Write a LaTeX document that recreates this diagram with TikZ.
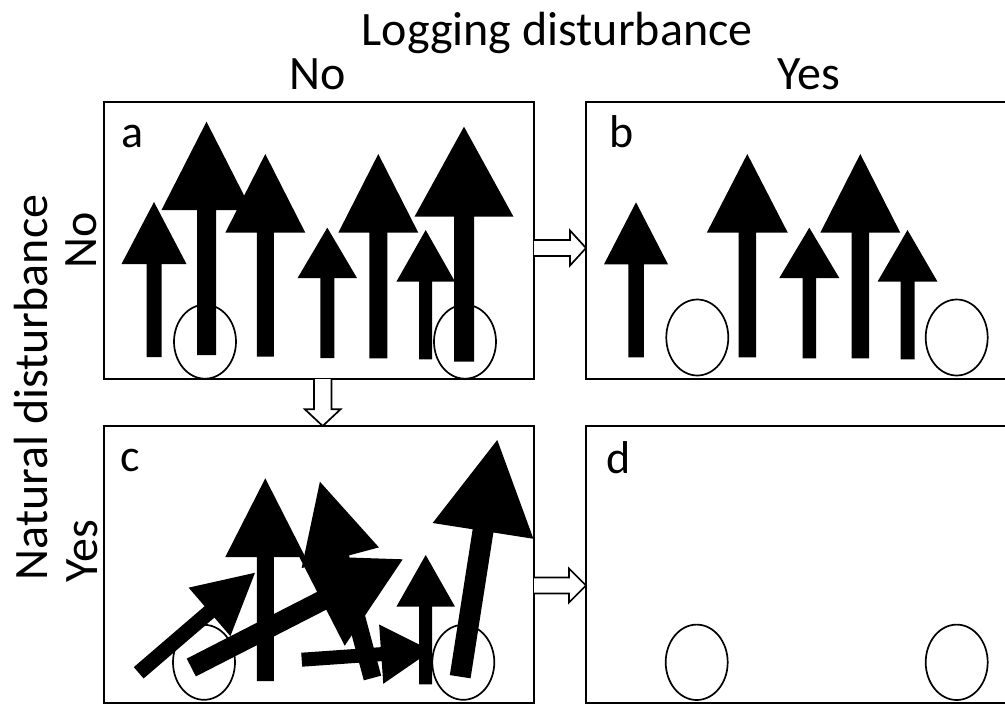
\documentclass[tikz,border=0pt]{standalone}
\usepackage{fontspec}
\setmainfont{Carlito}
\usetikzlibrary{calc}
% tree arrow: #1 base point, #2 canvas angle, #3 length, #4 shaft width, #5 head length, #6 head half-width
\newcommand\treearrow[6]{%
  \fill[tree,shift={(#1)},rotate=#2]
    (0,-#4/2) -- (#3-#5,-#4/2) -- (#3-#5,-#6) -- (#3,0) -- (#3-#5,#6) -- (#3-#5,#4/2) -- (0,#4/2) -- cycle;}
\begin{document}
\begin{tikzpicture}[x=1pt,y=-1pt,
  panel/.style={draw=black, line width=1.9pt, inner sep=0pt, outer sep=0pt},
  tree/.style={fill=black},
  ring/.style={draw=black, line width=1.7pt},
  hollow/.style={draw=black, line width=1.7pt, fill=white, line join=miter},
  lab/.style={font=\fontsize{48}{56}\selectfont, inner sep=0pt},
  plab/.style={font=\fontsize{46}{54}\selectfont, inner sep=0pt, anchor=base west}]
\clip (0,0) rectangle (1005,705);
\fill[white] (0,0) rectangle (1005,705);

% headings
\node[lab, anchor=base] (title) at (557,45) {Logging disturbance};
\node[lab, anchor=base] (colno) at (318,89) {No};
\node[lab, anchor=base] (colyes) at (809,89) {Yes};
\node[lab, anchor=base, rotate=90] (rowtitle) at (47,387.5) {Natural disturbance};
\node[lab, anchor=base, rotate=90] (rowno) at (96.5,240) {No};
\node[lab, anchor=base, rotate=90] (rowyes) at (97,551) {Yes};

% panels
\node[panel, anchor=north west, minimum width=430pt, minimum height=277pt] (pa) at (104,102) {};
\node[panel, anchor=north west, minimum width=430pt, minimum height=277pt] (pb) at (586,102) {};
\node[panel, anchor=north west, minimum width=430pt, minimum height=277pt] (pc) at (104,426) {};
\node[panel, anchor=north west, minimum width=430pt, minimum height=277pt] (pd) at (586,426) {};

\node[plab] (la) at (121,147) {a};
\node[plab] (lb) at (609,147.5) {b};
\node[plab] (lc) at (120,471.5) {c};
\node[plab] (ld) at (606,473) {d};

% gaps (circles)
\draw[ring] (205,341.7) ellipse [x radius=31, y radius=37];
\draw[ring] (465,341.7) ellipse [x radius=31, y radius=37];
\draw[ring] (697.3,337.5) ellipse [x radius=31, y radius=38];
\draw[ring] (956.7,337.5) ellipse [x radius=31, y radius=38];
\draw[ring] (204,662.3) ellipse [x radius=31, y radius=37.5];
\draw[ring] (463.3,662.3) ellipse [x radius=31, y radius=37.5];
\draw[ring] (696.7,662.3) ellipse [x radius=31, y radius=37.7];
\draw[ring] (956.7,662.3) ellipse [x radius=31, y radius=37.7];

% panel a
\treearrow{154,357}{90}{155}{15}{62}{32.5}
\treearrow{206.5,355}{90}{233.3}{19}{88.3}{45}
\treearrow{265.3,356.7}{90}{202.7}{17}{78.7}{40}
\treearrow{327.3,358}{90}{130.3}{14}{50.3}{29.7}
\treearrow{378.3,358.3}{90}{204.3}{18}{78.7}{40}
\treearrow{425.7,359.3}{90}{129.3}{13}{51.7}{29.3}
\treearrow{464,361.7}{90}{235}{20}{90}{49.5}

% panel b
\treearrow{636,357.3}{90}{155}{15.5}{62}{32}
\treearrow{747.3,357.3}{90}{203.3}{17.5}{78.7}{40.5}
\treearrow{809.3,358.3}{90}{130.6}{13.5}{50.3}{30}
\treearrow{860.3,358.3}{90}{204.3}{17.5}{78.7}{40}
\treearrow{907.5,359.3}{90}{129.3}{14}{51.7}{30}

% panel c
\treearrow{138.7,672.8}{40.7}{153.4}{15}{60}{32}
\treearrow{191.3,667.5}{27.1}{237.5}{20}{91}{50.5}
\treearrow{265.3,681}{90}{202.7}{17}{78.7}{40}
\treearrow{301.7,659.7}{4}{130}{14}{50.3}{29.7}
\treearrow{372.5,678}{105}{203.2}{18}{78.7}{40}
\treearrow{425.7,684.3}{90}{129.3}{13}{51.7}{29.3}
\treearrow{460.2,676.7}{81.1}{239.6}{21}{92}{51}

% transition arrows
\coordinate (ab-s) at ($(pa.north east)+(0,146)$);
\coordinate (ab-t) at ($(pb.north west)+(0,146)$);
\draw[hollow] ($(ab-s)+(0,-8)$) -- ($(ab-t)+(-16,-8)$) -- ($(ab-t)+(-16,-17.5)$) -- (ab-t)
  -- ($(ab-t)+(-16,17.5)$) -- ($(ab-t)+(-16,8)$) -- ($(ab-s)+(0,8)$);

\coordinate (cd-s) at ($(pc.north east)+(0,159.5)$);
\coordinate (cd-t) at ($(pd.north west)+(0,159.5)$);
\draw[hollow] ($(cd-s)+(0,-8)$) -- ($(cd-t)+(-17,-8)$) -- ($(cd-t)+(-17,-17)$) -- (cd-t)
  -- ($(cd-t)+(-17,17)$) -- ($(cd-t)+(-17,8)$) -- ($(cd-s)+(0,8)$);

\coordinate (ac-s) at ($(pa.south west)+(218.7,0)$);
\coordinate (ac-t) at ($(pc.north west)+(218.7,0)$);
\draw[hollow] ($(ac-s)+(-8.7,0)$) -- ($(ac-t)+(-8.7,-16.7)$) -- ($(ac-t)+(-17.8,-16.7)$) -- (ac-t)
  -- ($(ac-t)+(17.8,-16.7)$) -- ($(ac-t)+(8.7,-16.7)$) -- ($(ac-s)+(8.7,0)$);
\end{tikzpicture}
\end{document}
